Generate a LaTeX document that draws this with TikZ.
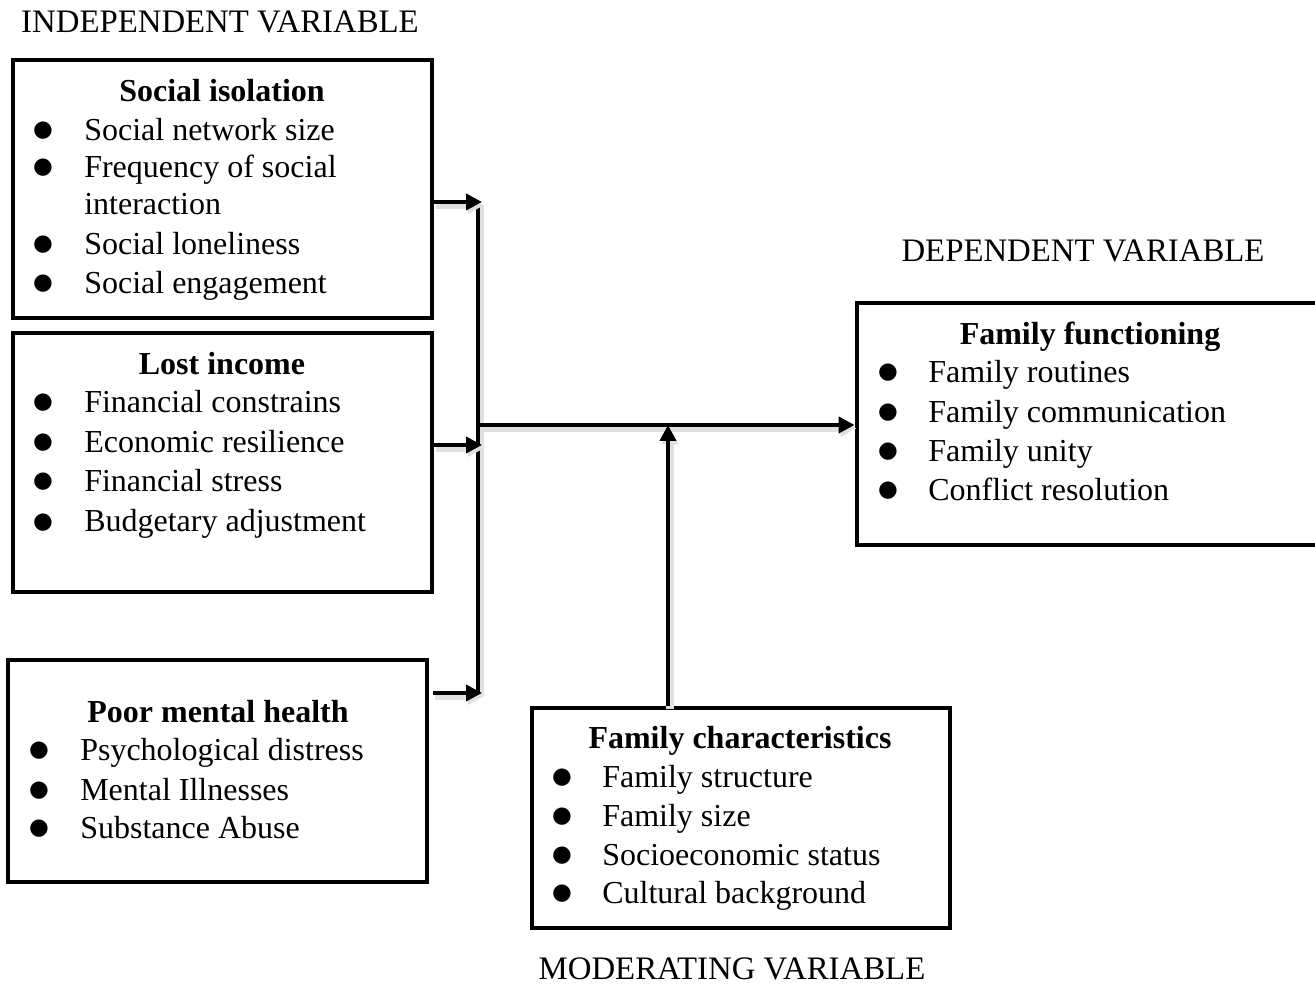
\documentclass[tikz,border=0pt]{standalone}
\usepackage{fontspec}
\setmainfont{Liberation Serif}
\newfontfamily\djv{DejaVu Sans}
\usetikzlibrary{fit,arrows.meta}
\begin{document}
\begin{tikzpicture}[x=0.75pt,y=-0.75pt,
  font=\fontsize{24pt}{29pt}\selectfont,
  box/.style={draw=black,line width=3.6pt,inner sep=0pt,rectangle},
  ttl/.style={anchor=base,font=\fontsize{24pt}{29pt}\selectfont\bfseries,inner sep=0pt},
  itm/.style={anchor=base west,inner sep=0pt},
  bul/.style={anchor=base,inner sep=0pt,font=\djv\fontsize{17pt}{17pt}\selectfont},
  lbl/.style={anchor=base,inner sep=0pt,font=\fontsize{24.6pt}{29pt}\selectfont},
  conn/.style={line width=3.6pt,draw=black,
    preaction={draw=black!12,line width=5.5pt,transform canvas={shift={(1.5pt,-2.5pt)}}}},
  arr/.style={conn,-{Triangle[length=12pt,width=12pt]}}]
\useasboundingbox (0,0) rectangle (1315,984);
\clip (0,0) rectangle (1315,984);

% headings
\node[lbl] (hind) at (220,33) {INDEPENDENT VARIABLE};
\node[lbl] (hdep) at (1083,262) {DEPENDENT VARIABLE};
\node[lbl] (hmod) at (732,979) {MODERATING VARIABLE};

% boxes
\node[box,fit={(13,60)(432,318)}] (si) {};
\node[box,fit={(13,333)(432,592)}] (li) {};
\node[box,fit={(8,660)(427,882)}] (pm) {};
\node[box,fit={(532,708)(950,928)}] (fc) {};
\node[box,fit={(857,303)(1330,545)}] (ff) {};

% Social isolation
\node[ttl] (si0) at (222,102) {Social isolation};
\foreach \y/\t/\n in {141/Social network size/1,178/Frequency of social/2,255/Social loneliness/4,294/Social engagement/5}{
  \node[bul] (sib\n) at (43,\y-4) {●};
  \node[itm] (si\n) at (84,\y) {\t};
}
\node[itm] (si3) at (84,215) {interaction};

% Lost income
\node[ttl] (li0) at (222,375) {Lost income};
\foreach \y/\t/\n in {413/Financial constrains/1,453/Economic resilience/2,492/Financial stress/3,532/Budgetary adjustment/4}{
  \node[bul] (lib\n) at (43,\y-4) {●};
  \node[itm] (li\n) at (84,\y) {\t};
}

% Poor mental health
\node[ttl] (pm0) at (218,722) {Poor mental health};
\foreach \y/\t/\n in {760/Psychological distress/1,800/Mental Illnesses/2,838/Substance Abuse/3}{
  \node[bul] (pmb\n) at (39,\y-4) {●};
  \node[itm] (pm\n) at (80,\y) {\t};
}

% Family characteristics
\node[ttl] (fc0) at (740,748) {Family characteristics};
\foreach \y/\t/\n in {787/Family structure/1,826/Family size/2,865/Socioeconomic status/3,903/Cultural background/4}{
  \node[bul] (fcb\n) at (562,\y-4) {●};
  \node[itm] (fc\n) at (602,\y) {\t};
}

% Family functioning
\node[ttl] (ff0) at (1090,345) {Family functioning};
\foreach \y/\t/\n in {383/Family routines/1,423/Family communication/2,462/Family unity/3,500/Conflict resolution/4}{
  \node[bul] (ffb\n) at (888,\y-4) {●};
  \node[itm] (ff\n) at (928,\y) {\t};
}

% connectors
\coordinate (bt) at (478,202);
\coordinate (bm) at (478,445);
\coordinate (bb) at (478,693);
\coordinate (bj) at (478,425);
\coordinate (mj) at (668,425);

\draw[conn] (bt) -- (bb);
\draw[arr] (si.east |- bt) -- ([xshift=3pt]bt);
\draw[arr] (li.east |- bm) -- ([xshift=3pt]bm);
\draw[arr] ([xshift=3pt]pm.east |- bb) -- ([xshift=3pt]bb);
\draw[arr] (bj) -- (ff.west |- bj);
\draw[arr] (fc.north -| mj) -- (mj);
\end{tikzpicture}
\end{document}
